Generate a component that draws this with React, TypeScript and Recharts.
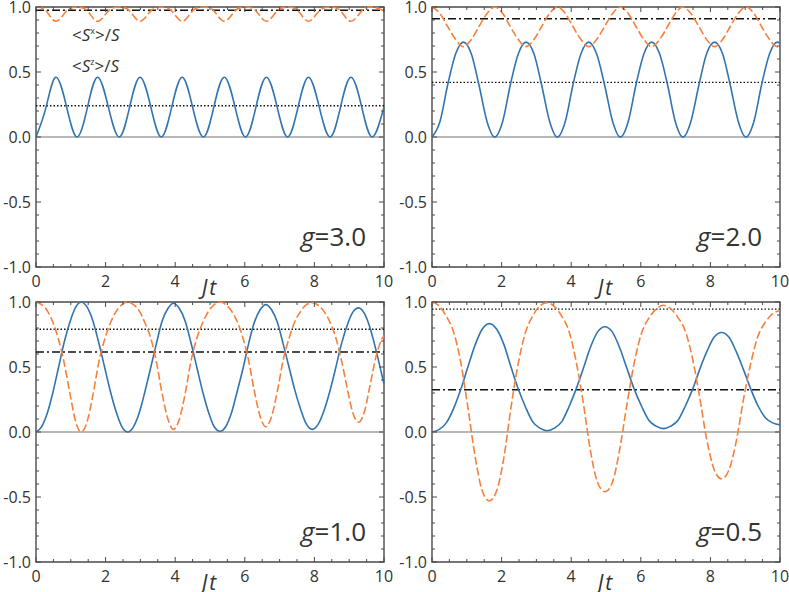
import React from 'react';
import { LineChart, Line, XAxis, YAxis, ReferenceLine, ReferenceArea } from 'recharts';

// g = 3.0
const g30Time = [0, 0.29, 0.57, 0.88, 1.18, 1.48, 1.77, 2.08, 2.39, 2.69, 2.99, 3.3, 3.6, 3.9, 4.2, 4.5, 4.81, 5.11, 5.41, 5.72, 6.02, 6.32, 6.62, 6.93, 7.23, 7.53, 7.83, 8.14, 8.45, 8.75, 9.05, 9.36, 9.66, 10];
const g30Sz = [0, 0.23, 0.46, 0.23, 0, 0.23, 0.46, 0.23, 0, 0.23, 0.46, 0.23, 0, 0.23, 0.46, 0.23, 0, 0.23, 0.46, 0.23, 0, 0.23, 0.46, 0.23, 0, 0.23, 0.46, 0.23, 0, 0.23, 0.46, 0.23, 0, 0.23];
const g30Sx = [1, 0.97, 0.89, 0.97, 1, 0.97, 0.89, 0.97, 1, 0.97, 0.89, 0.97, 1, 0.97, 0.89, 0.97, 1, 0.97, 0.89, 0.97, 1, 0.97, 0.89, 0.97, 1, 0.97, 0.89, 0.97, 1, 0.97, 0.89, 0.97, 1, 0.97];

// g = 2.0
const g20Time = [0, 0.23, 0.45, 0.68, 0.9, 1.13, 1.35, 1.58, 1.8, 2.03, 2.25, 2.48, 2.7, 2.93, 3.15, 3.38, 3.6, 3.83, 4.05, 4.28, 4.5, 4.73, 4.96, 5.19, 5.41, 5.64, 5.86, 6.09, 6.31, 6.54, 6.77, 6.99, 7.21, 7.44, 7.67, 7.89, 8.12, 8.35, 8.57, 8.8, 9.02, 9.25, 9.47, 9.7, 9.92, 10];
const g20Sz = [0, 0.12, 0.4, 0.64, 0.73, 0.64, 0.4, 0.12, 0, 0.12, 0.4, 0.64, 0.73, 0.64, 0.4, 0.12, 0, 0.12, 0.4, 0.64, 0.73, 0.64, 0.4, 0.12, 0, 0.12, 0.4, 0.64, 0.73, 0.64, 0.4, 0.12, 0, 0.12, 0.4, 0.64, 0.73, 0.64, 0.4, 0.12, 0, 0.12, 0.4, 0.64, 0.73, 0.72];
const g20Sx = [1, 0.95, 0.85, 0.75, 0.695, 0.75, 0.85, 0.95, 1, 0.95, 0.85, 0.75, 0.695, 0.75, 0.85, 0.95, 1, 0.95, 0.85, 0.75, 0.695, 0.75, 0.85, 0.95, 1, 0.95, 0.85, 0.75, 0.695, 0.75, 0.85, 0.95, 1, 0.95, 0.85, 0.75, 0.695, 0.75, 0.85, 0.95, 1, 0.95, 0.85, 0.75, 0.695, 0.7];

// g = 1.0
const g10Time = [0, 0.16, 0.33, 0.49, 0.65, 0.81, 0.98, 1.14, 1.3,
  1.47, 1.64, 1.8, 1.97, 2.14, 2.31, 2.47, 2.64,
  2.8, 2.97, 3.13, 3.3, 3.46, 3.62, 3.79, 3.95,
  4.12, 4.29, 4.45, 4.62, 4.79, 4.96, 5.12, 5.29,
  5.45, 5.62, 5.78, 5.95, 6.11, 6.27, 6.44, 6.6,
  6.77, 6.94, 7.1, 7.27, 7.44, 7.61, 7.77, 7.94,
  8.11, 8.27, 8.44, 8.61, 8.77, 8.94, 9.1, 9.27,
  9.44, 9.6, 9.77, 9.93, 10];
const g10Sz = [0, 0.04, 0.15, 0.31, 0.5, 0.69, 0.85, 0.96, 1,
  0.96, 0.85, 0.69, 0.5, 0.31, 0.15, 0.04, 0,
  0.04, 0.15, 0.31, 0.5, 0.68, 0.85, 0.95, 0.99,
  0.95, 0.85, 0.69, 0.5, 0.31, 0.15, 0.04, 0.005,
  0.04, 0.15, 0.31, 0.49, 0.68, 0.84, 0.94, 0.98,
  0.94, 0.84, 0.68, 0.5, 0.32, 0.17, 0.06, 0.02,
  0.06, 0.16, 0.31, 0.49, 0.67, 0.82, 0.92, 0.955,
  0.91, 0.8, 0.63, 0.45, 0.37];
const g10Sx = [1, 0.98, 0.93, 0.84, 0.71, 0.53, 0.29, 0.08, 0,
  0.08, 0.29, 0.53, 0.71, 0.84, 0.93, 0.98, 1,
  0.98, 0.93, 0.84, 0.72, 0.54, 0.3, 0.1, 0.02,
  0.1, 0.3, 0.54, 0.72, 0.84, 0.93, 0.98, 1,
  0.98, 0.93, 0.85, 0.72, 0.55, 0.32, 0.12, 0.04,
  0.12, 0.32, 0.55, 0.72, 0.85, 0.93, 0.98, 0.995,
  0.975, 0.93, 0.85, 0.73, 0.56, 0.34, 0.15, 0.075,
  0.16, 0.36, 0.58, 0.71, 0.74];

// g = 0.5
const g05Time = [0, 0.21, 0.41, 0.62, 0.83, 1.03, 1.24, 1.44, 1.65,
  1.86, 2.07, 2.27, 2.48, 2.69, 2.89, 3.1, 3.31,
  3.52, 3.73, 3.93, 4.14, 4.35, 4.55, 4.76, 4.97,
  5.18, 5.39, 5.6, 5.81, 6.02, 6.23, 6.44, 6.65,
  6.86, 7.07, 7.28, 7.49, 7.69, 7.9, 8.11, 8.32,
  8.53, 8.74, 8.95, 9.16, 9.37, 9.58, 9.79, 10];
const g05Sz = [0, 0.02, 0.07, 0.18, 0.33, 0.5, 0.67, 0.79, 0.834,
  0.79, 0.67, 0.5, 0.33, 0.19, 0.08, 0.03, 0.01,
  0.03, 0.08, 0.19, 0.33, 0.49, 0.65, 0.77, 0.81,
  0.77, 0.65, 0.49, 0.33, 0.2, 0.09, 0.045, 0.026,
  0.045, 0.09, 0.2, 0.33, 0.48, 0.62, 0.73, 0.765,
  0.73, 0.62, 0.48, 0.33, 0.2, 0.11, 0.07, 0.055];
const g05Sx = [1, 0.97, 0.89, 0.77, 0.53, 0.19, -0.19, -0.45, -0.53,
  -0.45, -0.19, 0.19, 0.53, 0.77, 0.89, 0.97, 0.995,
  0.965, 0.89, 0.78, 0.545, 0.22, -0.14, -0.39, -0.46,
  -0.39, -0.14, 0.21, 0.53, 0.76, 0.875, 0.945, 0.975,
  0.948, 0.88, 0.775, 0.56, 0.27, -0.066, -0.29, -0.36,
  -0.295, -0.075, 0.25, 0.53, 0.74, 0.845, 0.91, 0.935];

// time averages (horizontal lines)
const dottedLevels = [0.24, 0.42, 0.79, 0.945];
const dashDotLevels = [0.975, 0.91, 0.615, 0.325];
const gLabels = ['3.0', '2.0', '1.0', '0.5'];

const xTicks = [0, 0.5, 1, 1.5, 2, 2.5, 3, 3.5, 4, 4.5, 5, 5.5, 6, 6.5, 7, 7.5, 8, 8.5, 9, 9.5, 10];
const yTicks = [-1, -0.9, -0.8, -0.7, -0.6, -0.5, -0.4, -0.3, -0.2, -0.1, 0, 0.1, 0.2, 0.3, 0.4, 0.5, 0.6, 0.7, 0.8, 0.9, 1];

const PW = 348;
const PH = 260;
const TOP_PAD = 12;
const BLUE = '#3274af';
const ORANGE = '#f5813c';
const FRAME = '#4a4a4a';
const TEXT = '#333';
const FONT = '"Open Sans", "Noto Sans", sans-serif';

const XTick = (props: any) => {
  const { x, y, payload } = props;
  const v = payload.value;
  const major = v % 2 === 0;
  const len = major ? 5 : 3;
  return (
    <g>
      <line x1={x} x2={x} y1={y} y2={y - len} stroke={FRAME} strokeWidth={1} />
      <line x1={x} x2={x} y1={y - PH} y2={y - PH + len} stroke={FRAME} strokeWidth={1} />
      {major && (
        <text x={x} y={y + 20} textAnchor="middle" fontSize={16} fill={TEXT} fontFamily={FONT}>
          {v}
        </text>
      )}
    </g>
  );
};

const YTick = (props: any) => {
  const { x, y, payload } = props;
  const v = payload.value;
  const major = Math.abs(v * 2 - Math.round(v * 2)) < 1e-6;
  const len = major ? 5 : 3;
  return (
    <g>
      <line x1={x} x2={x + len} y1={y} y2={y} stroke={FRAME} strokeWidth={1} />
      <line x1={x + PW} x2={x + PW - len} y1={y} y2={y} stroke={FRAME} strokeWidth={1} />
      {major && (
        <text x={x - 5} y={y + 5.5} textAnchor="end" fontSize={16} fill={TEXT} fontFamily={FONT}>
          {v.toFixed(1)}
        </text>
      )}
    </g>
  );
};

function Panel({ left, top, time, sz, sx, dotted, dashDot, smooth }: any) {
  const data = time.map((t: number, i: number) => ({ t, sz: sz[i], sx: sx[i] }));
  return (
    <div style={{ position: 'absolute', left: left - 40, top: top - TOP_PAD }}>
      <LineChart width={PW + 50} height={PH + TOP_PAD + 30} data={data} margin={{ top: TOP_PAD, right: 10, bottom: 0, left: 0 }}>
        <XAxis dataKey="t" type="number" domain={[0, 10]} ticks={xTicks} interval={0} height={30}
          axisLine={false} tickLine={false} tickSize={0} tickMargin={0} tick={XTick} />
        <YAxis type="number" domain={[-1, 1]} ticks={yTicks} interval={0} width={40}
          axisLine={false} tickLine={false} tickSize={0} tickMargin={0} tick={YTick} />
        <ReferenceLine y={0} stroke="#a0a0a0" strokeWidth={1.5} />
        <ReferenceLine y={dotted} stroke="#111" strokeWidth={1.4} strokeDasharray="1.5 2" />
        <ReferenceLine y={dashDot} stroke="#111" strokeWidth={1.4} strokeDasharray="8 3 2 3" />
        <Line dataKey="sz" type={smooth} stroke={BLUE} strokeWidth={1.6} dot={false} isAnimationActive={false} />
        <Line dataKey="sx" type={smooth} stroke={ORANGE} strokeWidth={1.6} strokeDasharray="8 3" dot={false} isAnimationActive={false} />
        <ReferenceArea x1={0} x2={10} y1={-1} y2={1} fill="none" stroke={FRAME} strokeWidth={1.4} />
      </LineChart>
    </div>
  );
}

const panelPos = [
  { left: 36, top: 7 },
  { left: 432, top: 7 },
  { left: 36, top: 302 },
  { left: 432, top: 302 },
];

export default function App() {
  return (
    <div style={{ position: 'absolute', left: 0, top: 0, width: 789, height: 592, background: '#fff', fontFamily: FONT, overflow: 'hidden' }}>
      <Panel {...panelPos[0]} time={g30Time} sz={g30Sz} sx={g30Sx} dotted={dottedLevels[0]} dashDot={dashDotLevels[0]} smooth="natural" />
      <Panel {...panelPos[1]} time={g20Time} sz={g20Sz} sx={g20Sx} dotted={dottedLevels[1]} dashDot={dashDotLevels[1]} smooth="monotone" />
      <Panel {...panelPos[2]} time={g10Time} sz={g10Sz} sx={g10Sx} dotted={dottedLevels[2]} dashDot={dashDotLevels[2]} smooth="monotone" />
      <Panel {...panelPos[3]} time={g05Time} sz={g05Sz} sx={g05Sx} dotted={dottedLevels[3]} dashDot={dashDotLevels[3]} smooth="monotone" />
      <svg width={789} height={592} style={{ position: 'absolute', left: 0, top: 0, pointerEvents: 'none' }}>
        {panelPos.map((p, i) => (
          <g key={i} fill={TEXT} fontFamily={FONT}>
            <text x={p.left + PW - 18} y={p.top + PH - 21} textAnchor="end" fontSize={26}>
              <tspan fontStyle="italic">g</tspan>={gLabels[i]}
            </text>
            <text x={p.left + PW / 2} y={p.top + PH + 28} textAnchor="middle" fontSize={21} fontStyle="italic" letterSpacing={2}>
              Jt
            </text>
          </g>
        ))}
        <g fill={TEXT} fontFamily={FONT} fontSize={17}>
          <text x={72} y={41}>
            {'<'}<tspan fontStyle="italic">S</tspan><tspan fontSize={9} dy={-7}>x</tspan><tspan dy={7}>{'>/'}</tspan><tspan fontStyle="italic">S</tspan>
          </text>
          <text x={72} y={72}>
            {'<'}<tspan fontStyle="italic">S</tspan><tspan fontSize={9} dy={-7}>z</tspan><tspan dy={7}>{'>/'}</tspan><tspan fontStyle="italic">S</tspan>
          </text>
        </g>
      </svg>
    </div>
  );
}
